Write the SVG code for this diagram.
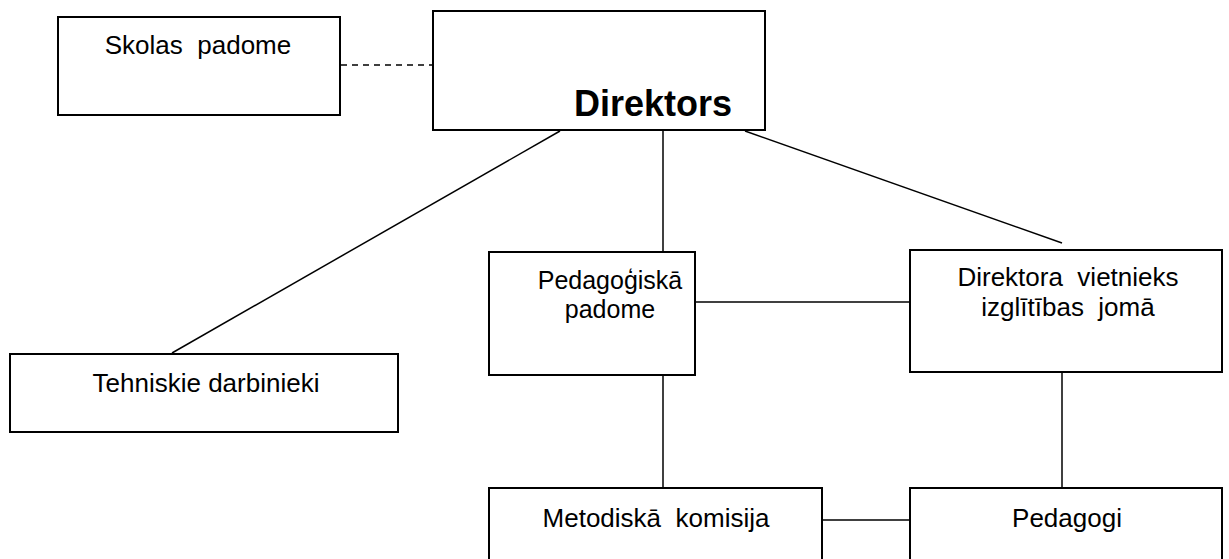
<svg xmlns="http://www.w3.org/2000/svg" width="1229" height="559" viewBox="0 0 1229 559">
<style>
.box{fill:#fff;stroke:#000;stroke-width:2}
.ln{stroke:#000;stroke-width:1.5;fill:none}
.dash{stroke:#000;stroke-width:1.5;stroke-dasharray:6,5;fill:none}
.t{font-family:"Liberation Sans",Arial,sans-serif;font-size:26px;fill:#000;text-anchor:middle}
.s{font-size:25px}
.b{font-family:"Liberation Sans",Arial,sans-serif;font-size:36px;font-weight:bold;fill:#000;text-anchor:middle}
</style>
<rect width="1229" height="559" fill="#fff"/>
<g id="connectors">
<line class="dash" x1="341" y1="65" x2="432" y2="65"/>
<line class="ln" x1="560" y1="131" x2="172" y2="353"/>
<line class="ln" x1="663" y1="131" x2="663" y2="252"/>
<line class="ln" x1="745" y1="131" x2="1062" y2="243"/>
<line class="ln" x1="695" y1="302" x2="910" y2="302"/>
<line class="ln" x1="663" y1="368" x2="663" y2="488"/>
<line class="ln" x1="1062" y1="372" x2="1062" y2="488"/>
<line class="ln" x1="822" y1="520" x2="910" y2="520"/>
</g>
<g id="skolas-padome">
<rect class="box" x="58" y="17" width="282" height="98"/>
<text class="t" x="198" y="54" xml:space="preserve">Skolas  padome</text>
</g>
<g id="direktors">
<rect class="box" x="433" y="11" width="332" height="119"/>
<text class="b" x="653" y="116">Direktors</text>
</g>
<g id="tehniskie-darbinieki">
<rect class="box" x="10" y="354" width="388" height="78"/>
<text class="t" x="206" y="392">Tehniskie darbinieki</text>
</g>
<g id="pedagogiska-padome">
<rect class="box" x="489" y="252" width="206" height="123"/>
<text class="t s" x="610" y="289">Pedagoģiskā</text>
<text class="t s" x="610" y="318">padome</text>
</g>
<g id="direktora-vietnieks">
<rect class="box" x="910" y="250" width="312" height="122"/>
<text class="t" x="1068" y="286" xml:space="preserve">Direktora  vietnieks</text>
<text class="t" x="1068" y="316" xml:space="preserve">izglītības  jomā</text>
</g>
<g id="metodiska-komisija">
<rect class="box" x="489" y="488" width="333" height="80"/>
<text class="t" x="656" y="527" xml:space="preserve">Metodiskā  komisija</text>
</g>
<g id="pedagogi">
<rect class="box" x="910" y="488" width="312" height="80"/>
<text class="t" x="1067" y="527">Pedagogi</text>
</g>
</svg>
